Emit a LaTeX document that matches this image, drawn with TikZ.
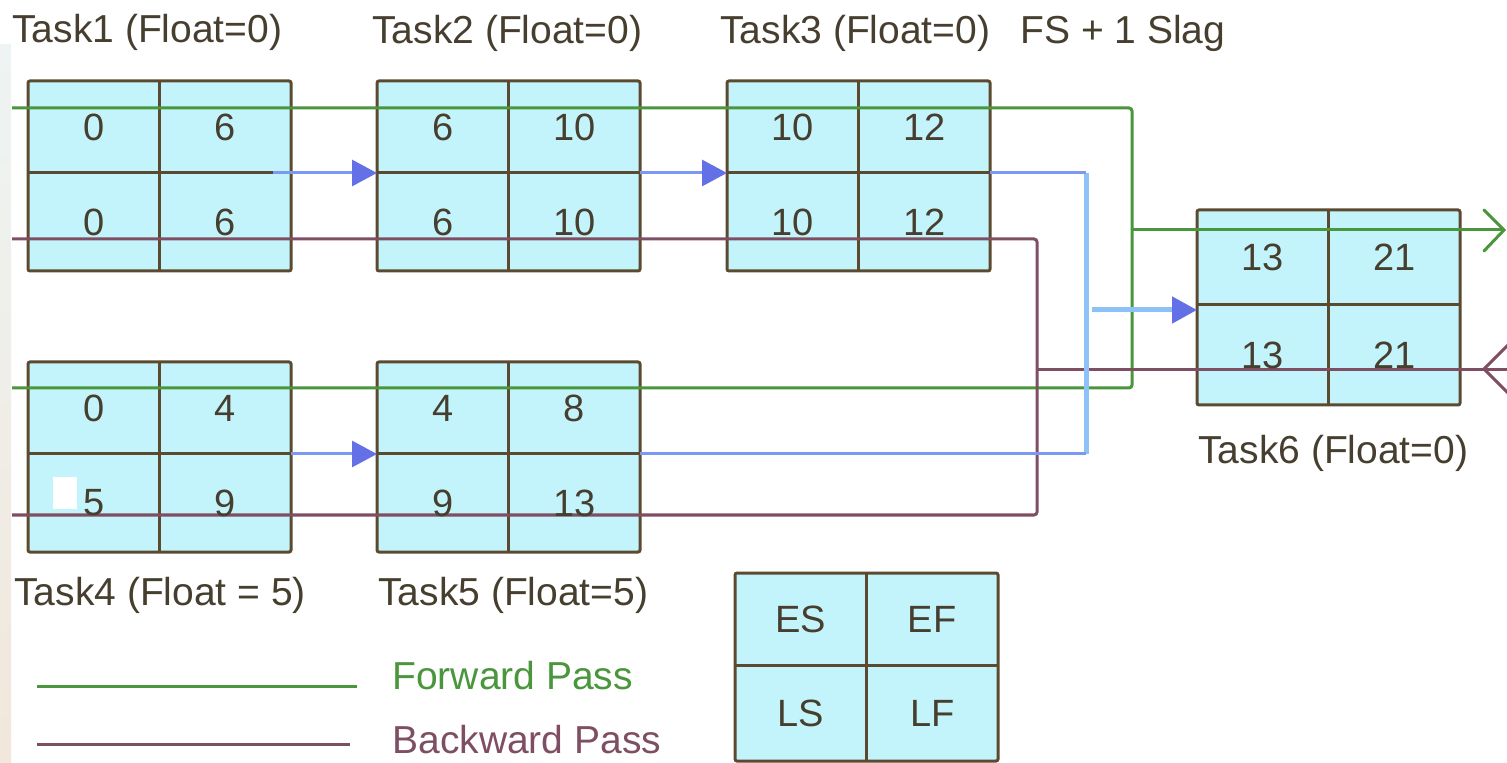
\documentclass[tikz,border=0pt]{standalone}
\usepackage{fontspec}
\setmainfont{Liberation Sans}
\usetikzlibrary{arrows.meta,fit}

\definecolor{cellfill}{HTML}{C4F4FB}
\definecolor{gridline}{HTML}{5C4A30}
\definecolor{fwdgreen}{HTML}{4A963C}
\definecolor{bwdpurple}{HTML}{7E4F62}
\definecolor{flowblue}{HTML}{7C98F0}
\definecolor{flowlight}{HTML}{8CC2F8}
\definecolor{headblue}{HTML}{6470E6}
\definecolor{txt}{HTML}{463E2E}
\definecolor{stripetop}{HTML}{EEF4F3}
\definecolor{stripebot}{HTML}{F1E7DC}

\pgfdeclarelayer{canvas}
\pgfdeclarelayer{back}
\pgfdeclarelayer{front}
\pgfsetlayers{canvas,back,main,front}

\tikzset{
  boxframe/.style={draw=gridline, line width=1.5pt, rounded corners=1pt, inner sep=0pt},
  gridrule/.style={draw=gridline, line width=1.5pt},
  num/.style={text=txt, inner sep=0pt, font=\fontsize{19}{21}\selectfont},
  caption/.style={text=txt, inner sep=0pt, anchor=west, font=\fontsize{19.5}{22}\selectfont},
  legendtext/.style={inner sep=0pt, anchor=west, font=\fontsize{19.5}{22}\selectfont},
  fwd/.style={draw=fwdgreen, line width=1.5pt, rounded corners=1.5pt},
  bwd/.style={draw=bwdpurple, line width=1.5pt, rounded corners=1.5pt},
  flow/.style={draw=flowblue, line width=1.5pt},
  flowwide/.style={draw=flowlight, line width=2.5pt},
  flowtip/.style={-{Triangle[length=12.5pt,width=13pt,color=headblue]}},
}

% #1 name, #2 left, #3 top, #4 middle, #5 bottom, #6..#9 ES EF LS LF
\newcommand\cpmtask[9]{%
  \begin{pgfonlayer}{back}
    \fill[cellfill] (#2,#3) rectangle ({#2+263},#5);
    \draw[gridrule] ({#2+131.5},#3) -- ({#2+131.5},#5);
    \draw[gridrule] (#2,#4) -- ({#2+263},#4);
    \node[boxframe, fit={(#2,#3) ({#2+263},#5)}] (#1) {};
  \end{pgfonlayer}
  \coordinate (#1-in) at (#2,#4);
  \coordinate (#1-out) at ({#2+263},#4);
  \begin{pgfonlayer}{front}
    \node[num] (#1-es) at ({#2+65.75},{(#3+#4)/2}) {#6};
    \node[num] (#1-ef) at ({#2+197.25},{(#3+#4)/2}) {#7};
    \node[num] (#1-ls) at ({#2+65.75},{(#4+#5)/2}) {#8};
    \node[num] (#1-lf) at ({#2+197.25},{(#4+#5)/2}) {#9};
  \end{pgfonlayer}
}

\begin{document}
\begin{tikzpicture}[x=0.5pt,y=-0.5pt]
\useasboundingbox (0,0) rectangle (1507,763);
\begin{pgfonlayer}{canvas}
  \fill[white] (0,0) rectangle (1507,763);
  \shade[top color=stripetop, bottom color=stripebot] (0,45) rectangle (11,763);
\end{pgfonlayer}

% activity boxes
\cpmtask{t1}{28}{81}{173}{271}{0}{6}{0}{6}
\cpmtask{t2}{377}{81}{173}{271}{6}{10}{6}{10}
\cpmtask{t3}{727}{81}{173}{271}{10}{12}{10}{12}
\cpmtask{t4}{28}{362}{454}{552}{0}{4}{5}{9}
\cpmtask{t5}{377}{362}{454}{552}{4}{8}{9}{13}
\cpmtask{t6}{1197}{210}{305}{405}{13}{21}{13}{21}
\cpmtask{lg}{735}{573}{665}{761}{ES}{EF}{LS}{LF}

% white patch in the LS cell of Task4
\begin{pgfonlayer}{back}
  \fill[white] (53,477) rectangle (77,509);
\end{pgfonlayer}

% forward pass
\coordinate (fa) at (12,108);
\coordinate (fb) at (1132,108);
\coordinate (fc) at (1132,230);
\coordinate (fd) at (1504,230);
\coordinate (fe) at (12,388);
\coordinate (ff) at (1132,388);
\draw[fwd] (fa) -- (fb) -- (fc);
\draw[fwd] (fe) -- (ff) -- (fc);
\draw[fwd] (fc) -- (fd);
\draw[fwd, rounded corners=0pt, line cap=round] (1484,210) -- (fd) -- (1484,251);

% backward pass
\coordinate (ba) at (12,239);
\coordinate (bb) at (1037,239);
\coordinate (bc) at (1037,515);
\coordinate (bd) at (12,515);
\coordinate (be) at (1507,370);
\coordinate (bf) at (1037,370);
\coordinate (bg) at (1484,369);
\draw[bwd] (ba) -- (bb) -- (bc) -- (bd);
\draw[bwd] (be) -- (bf);
\draw[bwd, rounded corners=0pt, line cap=round] (1512,341) -- (bg) -- (1512,397);

% activity flow
\coordinate (t1-src) at (273,173);
\coordinate (j1) at (1086,173);
\coordinate (j2) at (1086,454);
\coordinate (j3) at (1092,310);
\coordinate (t6-tgt) at (1197,310);
\draw[flow, flowtip] (t1-src) -- (t2-in);
\draw[flow, flowtip] (t2-out) -- (t3-in);
\draw[flow, flowtip] (t4-out) -- (t5-in);
\draw[flowwide] (j1) -- (j2);
\draw[flow] (t3-out) -- (j1);
\draw[flow] (t5-out) -- (j2);
\draw[flowwide, flowtip] (j3) -- (t6-tgt);

% captions
\node[caption] (c1) at (12,32) {Task1 (Float=0)};
\node[caption] (c2) at (372,33) {Task2 (Float=0)};
\node[caption] (c3) at (720,33) {Task3 (Float=0)};
\node[caption] (c3b) at (1020,33) {FS + 1 Slag};
\node[caption] (c4) at (14,595) {Task4 (Float = 5)};
\node[caption] (c5) at (378,595) {Task5 (Float=5)};
\node[caption] (c6) at (1198,453) {Task6 (Float=0)};

% legend
\coordinate (lfa) at (37,686);
\coordinate (lfb) at (357,686);
\coordinate (lba) at (37,744);
\coordinate (lbb) at (350,744);
\draw[fwd] (lfa) -- (lfb);
\draw[bwd] (lba) -- (lbb);
\node[legendtext, text=fwdgreen] (lf) at (392,676) {Forward Pass};
\node[legendtext, text=bwdpurple] (lb) at (392,740) {Backward Pass};
\end{tikzpicture}
\end{document}
